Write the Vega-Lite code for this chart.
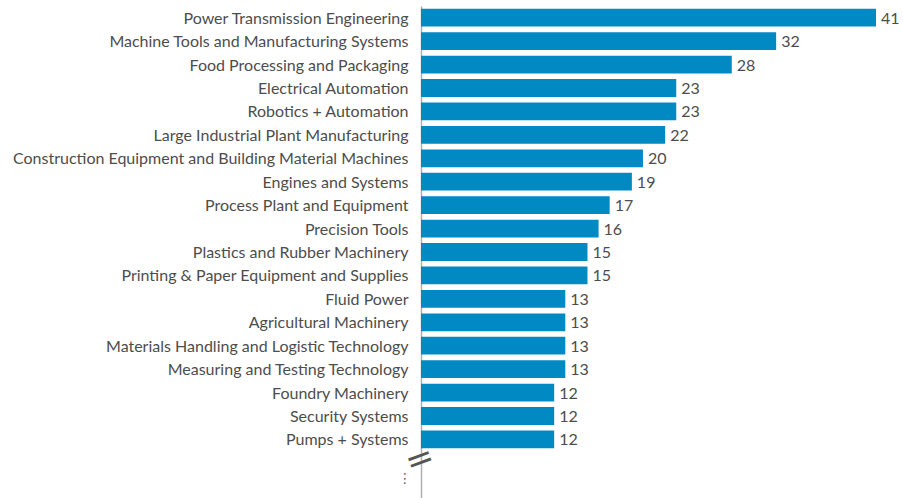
{
  "$schema": "https://vega.github.io/schema/vega-lite/v6.json",
  "width": 482,
  "height": 492,
  "autosize": {"type": "none"},
  "padding": {"left": 421, "top": 6, "right": 0, "bottom": 0},
  "background": "white",
  "config": {"view": {"stroke": null}, "font": "Lato"},
  "datasets": {
    "main": [
      {"category": "Power Transmission Engineering", "value": 41},
      {"category": "Machine Tools and Manufacturing Systems", "value": 32},
      {"category": "Food Processing and Packaging", "value": 28},
      {"category": "Electrical Automation", "value": 23},
      {"category": "Robotics + Automation", "value": 23},
      {"category": "Large Industrial Plant Manufacturing", "value": 22},
      {"category": "Construction Equipment and Building Material Machines", "value": 20},
      {"category": "Engines and Systems", "value": 19},
      {"category": "Process Plant and Equipment", "value": 17},
      {"category": "Precision Tools", "value": 16},
      {"category": "Plastics and Rubber Machinery", "value": 15},
      {"category": "Printing & Paper Equipment and Supplies", "value": 15},
      {"category": "Fluid Power", "value": 13},
      {"category": "Agricultural Machinery", "value": 13},
      {"category": "Materials Handling and Logistic Technology", "value": 13},
      {"category": "Measuring and Testing Technology", "value": 13},
      {"category": "Foundry Machinery", "value": 12},
      {"category": "Security Systems", "value": 12},
      {"category": "Pumps + Systems", "value": 12}
    ],
    "extras": [
      {"category": "brk", "symbol": "="},
      {"category": "more", "symbol": "⋮"}
    ]
  },
  "encoding": {
    "y": {
      "field": "category",
      "type": "nominal",
      "sort": null,
      "scale": {
        "domain": [
          "Power Transmission Engineering",
          "Machine Tools and Manufacturing Systems",
          "Food Processing and Packaging",
          "Electrical Automation",
          "Robotics + Automation",
          "Large Industrial Plant Manufacturing",
          "Construction Equipment and Building Material Machines",
          "Engines and Systems",
          "Process Plant and Equipment",
          "Precision Tools",
          "Plastics and Rubber Machinery",
          "Printing & Paper Equipment and Supplies",
          "Fluid Power",
          "Agricultural Machinery",
          "Materials Handling and Logistic Technology",
          "Measuring and Testing Technology",
          "Foundry Machinery",
          "Security Systems",
          "Pumps + Systems",
          "brk",
          "more"
        ],
        "paddingInner": 0.24,
        "paddingOuter": 0.12
      },
      "axis": {
        "title": null,
        "ticks": false,
        "labelPadding": 13,
        "labelOffset": 1,
        "labelFont": "Lato",
        "labelFontSize": 16,
        "labelColor": "#4d4d4d",
        "labelLimit": 500,
        "domainColor": "#b0b0b0",
        "domainWidth": 1.5,
        "labelExpr": "datum.value == 'brk' || datum.value == 'more' ? '' : datum.value"
      }
    }
  },
  "layer": [
    {
      "data": {"name": "main"},
      "mark": {"type": "bar", "color": "#0089c3"},
      "encoding": {
        "x": {"field": "value", "type": "quantitative", "scale": {"domain": [0, 43.43], "nice": false, "zero": true}, "axis": null}
      }
    },
    {
      "data": {"name": "main"},
      "mark": {"type": "text", "align": "left", "baseline": "middle", "dx": 5, "dy": 1, "font": "Lato", "fontSize": 16, "color": "#4d4d4d"},
      "encoding": {
        "x": {"field": "value", "type": "quantitative"},
        "text": {"field": "value", "type": "quantitative"}
      }
    },
    {
      "data": {"name": "extras"},
      "transform": [{"filter": "datum.category == 'brk'"}],
      "mark": {"type": "text", "align": "center", "baseline": "middle", "dy": -3, "angle": 340, "font": "DejaVu Sans", "fontSize": 34, "color": "#555555"},
      "encoding": {
        "x": {"datum": 0, "type": "quantitative"},
        "text": {"field": "symbol"}
      }
    },
    {
      "data": {"name": "extras"},
      "transform": [{"filter": "datum.category == 'more'"}],
      "mark": {"type": "text", "align": "center", "baseline": "middle", "dx": -16, "dy": -7, "font": "DejaVu Sans", "fontSize": 14, "color": "#666666"},
      "encoding": {
        "x": {"datum": 0, "type": "quantitative"},
        "text": {"field": "symbol"}
      }
    }
  ]
}
